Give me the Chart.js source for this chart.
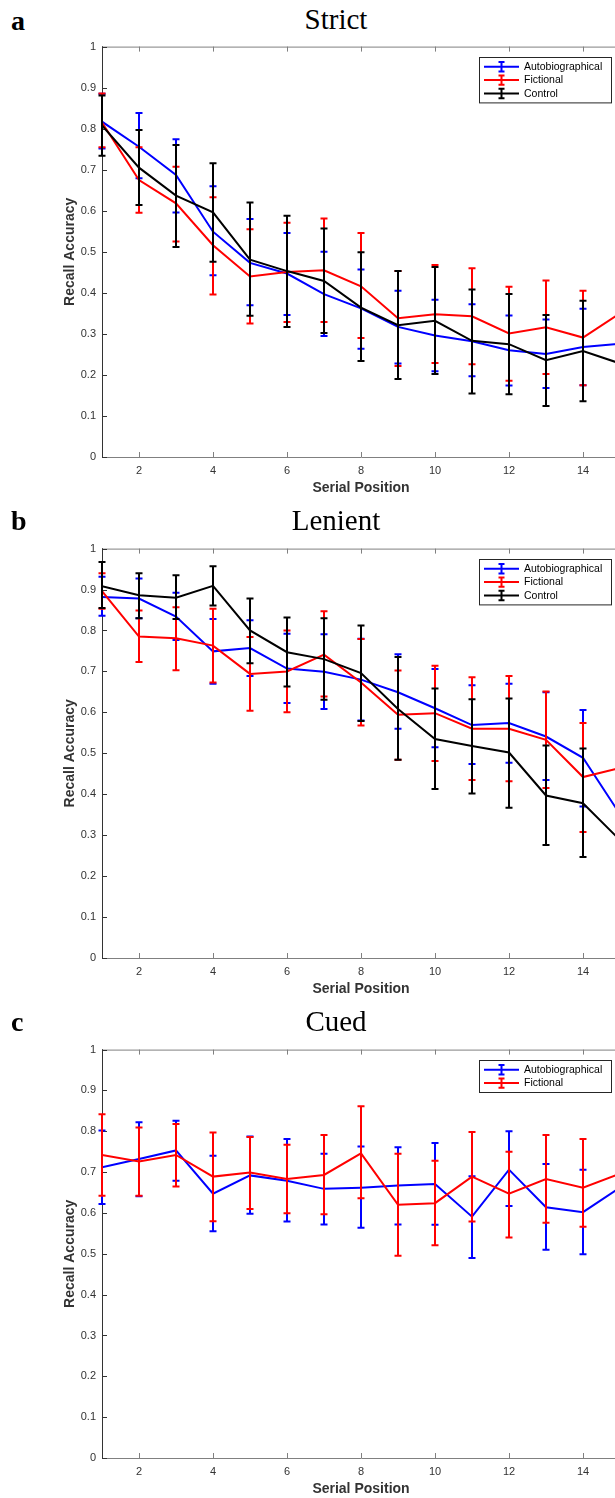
<!DOCTYPE html>
<html>
<head>
<meta charset="utf-8">
<script src="https://cdn.jsdelivr.net/npm/chart.js@4.4.1/dist/chart.umd.min.js"></script>
<style>
html, body { margin: 0; padding: 0; background: #fff; overflow: hidden; }
body { width: 615px; height: 1498px; position: relative; }
.panel { position: absolute; left: 0; width: 640px; }
.letter { position: absolute; left: 11px; font: bold 28px "Liberation Serif", serif; line-height: 28px; }
.title { position: absolute; left: 336px; transform: translateX(-50%); font: 29px "Liberation Serif", serif; line-height: 28px; white-space: nowrap; }
</style>
</head>
<body>
<div class="letter" style="top:7px">a</div>
<div class="title" style="top:5px">Strict</div>
<div class="panel" style="top:34px;height:473px"><canvas id="chartStrict"></canvas></div>

<div class="letter" style="top:507px">b</div>
<div class="title" style="top:506px">Lenient</div>
<div class="panel" style="top:536px;height:472px"><canvas id="chartLenient"></canvas></div>

<div class="letter" style="top:1008px">c</div>
<div class="title" style="top:1007px">Cued</div>
<div class="panel" style="top:1037px;height:471px"><canvas id="chartCued"></canvas></div>

<script>
// serial positions and axis ticks
const serialPositions = [1, 2, 3, 4, 5, 6, 7, 8, 9, 10, 11, 12, 13, 14, 15];
const xTickValues = [2, 4, 6, 8, 10, 12, 14];
const yTickValues = [0, 0.1, 0.2, 0.3, 0.4, 0.5, 0.6, 0.7, 0.8, 0.9, 1];

// a: Strict
const strictAuto = [0.817, 0.756, 0.687, 0.549, 0.473, 0.447, 0.397, 0.362, 0.317, 0.296, 0.282, 0.26, 0.251, 0.268, 0.276];
const strictAutoHigh = [0.885, 0.838, 0.774, 0.660, 0.580, 0.546, 0.500, 0.457, 0.405, 0.383, 0.372, 0.345, 0.335, 0.361, 0.37];
const strictAutoLow = [0.752, 0.679, 0.596, 0.443, 0.370, 0.346, 0.295, 0.264, 0.228, 0.209, 0.197, 0.174, 0.168, 0.175, 0.18];
const strictFict = [0.815, 0.675, 0.618, 0.516, 0.44, 0.451, 0.455, 0.416, 0.338, 0.348, 0.343, 0.301, 0.316, 0.291, 0.35];
const strictFictHigh = [0.886, 0.755, 0.707, 0.633, 0.555, 0.571, 0.581, 0.546, 0.453, 0.468, 0.46, 0.415, 0.43, 0.405, 0.46];
const strictFictLow = [0.755, 0.595, 0.525, 0.396, 0.325, 0.329, 0.329, 0.29, 0.222, 0.229, 0.226, 0.186, 0.202, 0.175, 0.24];
const strictCtrl = [0.808, 0.705, 0.637, 0.596, 0.481, 0.453, 0.429, 0.364, 0.321, 0.332, 0.283, 0.275, 0.236, 0.258, 0.228];
const strictCtrlHigh = [0.881, 0.797, 0.760, 0.716, 0.620, 0.588, 0.557, 0.499, 0.453, 0.463, 0.408, 0.397, 0.346, 0.381, 0.35];
const strictCtrlLow = [0.734, 0.614, 0.512, 0.476, 0.344, 0.317, 0.302, 0.234, 0.19, 0.202, 0.155, 0.153, 0.124, 0.136, 0.11];

// b: Lenient
const lenientAuto = [0.882, 0.878, 0.834, 0.749, 0.757, 0.707, 0.699, 0.68, 0.649, 0.61, 0.569, 0.574, 0.541, 0.489, 0.351];
const lenientAutoHigh = [0.931, 0.927, 0.892, 0.828, 0.825, 0.792, 0.791, 0.78, 0.742, 0.706, 0.666, 0.67, 0.649, 0.606, 0.47];
const lenientAutoLow = [0.836, 0.83, 0.777, 0.67, 0.689, 0.623, 0.608, 0.58, 0.56, 0.515, 0.474, 0.477, 0.435, 0.37, 0.23];
const lenientFict = [0.896, 0.785, 0.781, 0.763, 0.694, 0.70, 0.741, 0.673, 0.594, 0.598, 0.56, 0.56, 0.533, 0.442, 0.464];
const lenientFictHigh = [0.94, 0.849, 0.857, 0.853, 0.784, 0.80, 0.847, 0.779, 0.702, 0.714, 0.686, 0.689, 0.651, 0.574, 0.59];
const lenientFictLow = [0.853, 0.723, 0.703, 0.673, 0.604, 0.60, 0.639, 0.568, 0.484, 0.481, 0.435, 0.432, 0.415, 0.308, 0.34];
const lenientCtrl = [0.908, 0.886, 0.88, 0.909, 0.80, 0.747, 0.73, 0.696, 0.608, 0.535, 0.518, 0.502, 0.397, 0.378, 0.288];
const lenientCtrlHigh = [0.967, 0.94, 0.935, 0.957, 0.878, 0.832, 0.83, 0.812, 0.735, 0.658, 0.632, 0.634, 0.519, 0.512, 0.42];
const lenientCtrlLow = [0.855, 0.83, 0.828, 0.861, 0.72, 0.663, 0.631, 0.579, 0.484, 0.413, 0.402, 0.367, 0.276, 0.247, 0.16];

// c: Cued (no control condition)
const cuedAuto = [0.712, 0.732, 0.753, 0.647, 0.692, 0.679, 0.659, 0.662, 0.667, 0.671, 0.591, 0.706, 0.614, 0.602, 0.662];
const cuedAutoHigh = [0.802, 0.822, 0.826, 0.74, 0.787, 0.781, 0.745, 0.763, 0.761, 0.771, 0.69, 0.80, 0.72, 0.706, 0.76];
const cuedAutoLow = [0.622, 0.641, 0.679, 0.555, 0.598, 0.579, 0.572, 0.564, 0.572, 0.571, 0.49, 0.617, 0.51, 0.499, 0.56];
const cuedFict = [0.742, 0.726, 0.742, 0.689, 0.699, 0.683, 0.693, 0.746, 0.62, 0.624, 0.689, 0.647, 0.683, 0.662, 0.696];
const cuedFictHigh = [0.842, 0.809, 0.818, 0.797, 0.786, 0.767, 0.791, 0.861, 0.745, 0.728, 0.798, 0.75, 0.791, 0.781, 0.80];
const cuedFictLow = [0.642, 0.642, 0.665, 0.58, 0.61, 0.599, 0.597, 0.636, 0.495, 0.521, 0.579, 0.54, 0.576, 0.566, 0.59];

Chart.defaults.font.family = '"Liberation Sans", Arial, sans-serif';
Chart.defaults.color = '#333';

/**
 * Vertical error bars, drawn right after their own line so the stacking
 * order matches the original (blue, then red, then black on top)
 */
const errorBarPlugin = {
	id: "errorBars",
	afterDatasetDraw(chart, args) {
		const ds = chart.data.datasets[args.index];
		if (!ds.errLow) return;
		const ctx = chart.ctx;
		const xs = chart.scales.x;
		const ys = chart.scales.y;
		ctx.save();
		ctx.strokeStyle = ds.borderColor;
		ctx.lineWidth = 2;
		ds.data.forEach((p, i) => {
			const x = xs.getPixelForValue(p.x);
			const yl = ys.getPixelForValue(ds.errLow[i]);
			const yh = ys.getPixelForValue(ds.errHigh[i]);
			ctx.beginPath();
			ctx.moveTo(x, yl);
			ctx.lineTo(x, yh);
			ctx.moveTo(x - 3.5, yl);
			ctx.lineTo(x + 3.5, yl);
			ctx.moveTo(x - 3.5, yh);
			ctx.lineTo(x + 3.5, yh);
			ctx.stroke();
		});
		ctx.restore();
	}
};

/**
 * Matlab style box: top line plus inward ticks on every side
 */
const boxPlugin = {
	id: "matlabBox",
	beforeDatasetsDraw(chart) {
		const {ctx, chartArea: a, scales: {x, y}} = chart;
		ctx.save();
		ctx.lineWidth = 1;
		ctx.strokeStyle = "#808080";
		ctx.beginPath();
		ctx.moveTo(a.left, a.top + 0.5);
		ctx.lineTo(a.right, a.top + 0.5);
		x.ticks.forEach(t => {
			const px = Math.round(x.getPixelForValue(t.value)) + 0.5;
			ctx.moveTo(px, a.top);
			ctx.lineTo(px, a.top + 5);
			ctx.moveTo(px, a.bottom);
			ctx.lineTo(px, a.bottom - 5);
		});
		ctx.stroke();
		ctx.strokeStyle = "#333";
		ctx.beginPath();
		y.ticks.forEach(t => {
			const py = Math.round(y.getPixelForValue(t.value)) + 0.5;
			ctx.moveTo(a.left, py);
			ctx.lineTo(a.left + 5, py);
			ctx.moveTo(a.right, py);
			ctx.lineTo(a.right - 5, py);
		});
		ctx.stroke();
		ctx.restore();
	}
};

/**
 * Boxed legend in the top right corner, with line + error bar glyphs
 */
const boxLegendPlugin = {
	id: "boxLegend",
	afterDraw(chart) {
		const {ctx, chartArea: a} = chart;
		const sets = chart.data.datasets;
		const rowH = 13.4;
		const w = 132;
		const h = sets.length * rowH + 5.2;
		const bx = Math.round(a.right - 9 - w);
		const by = Math.round(a.top + 10);
		ctx.save();
		ctx.fillStyle = "#fff";
		ctx.fillRect(bx, by, w, h);
		ctx.strokeStyle = "#262626";
		ctx.lineWidth = 1;
		ctx.strokeRect(bx + 0.5, by + 0.5, w, h);
		ctx.font = '10.5px "Liberation Sans", Arial, sans-serif';
		ctx.textBaseline = "middle";
		sets.forEach((ds, i) => {
			const cy = by + 9.7 + i * rowH;
			const mx = bx + 22.5;
			ctx.strokeStyle = ds.borderColor;
			ctx.lineWidth = 2;
			ctx.beginPath();
			ctx.moveTo(bx + 5, cy);
			ctx.lineTo(bx + 40, cy);
			ctx.moveTo(mx, cy - 4.7);
			ctx.lineTo(mx, cy + 4.7);
			ctx.moveTo(mx - 3, cy - 4.7);
			ctx.lineTo(mx + 3, cy - 4.7);
			ctx.moveTo(mx - 3, cy + 4.7);
			ctx.lineTo(mx + 3, cy + 4.7);
			ctx.stroke();
			ctx.fillStyle = "#000";
			ctx.fillText(ds.label, bx + 45, cy + 0.5);
		});
		ctx.restore();
	}
};

function series(label, color, values, low, high, order) {
	return {
		label: label,
		data: values.map((v, i) => ({x: serialPositions[i], y: v})),
		errLow: low,
		errHigh: high,
		borderColor: color,
		backgroundColor: color,
		borderWidth: 2,
		pointRadius: 0,
		tension: 0,
		order: order
	};
}

function createChart(canvasId, datasets) {
	new Chart(document.getElementById(canvasId), {
		type: "line",
		data: { datasets: datasets },
		options: {
			responsive: true,
			maintainAspectRatio: false,
			animation: false,
			events: [],
			layout: { padding: { top: 1, left: 0, right: 20, bottom: 0 } },
			plugins: { legend: { display: false }, tooltip: { enabled: false } },
			scales: {
				x: {
					type: "linear",
					min: 1,
					max: 15,
					afterBuildTicks: s => { s.ticks = xTickValues.map(v => ({value: v})); },
					afterFit: s => { s.height = 50; },
					grid: { display: false, drawTicks: false },
					border: { display: true, color: "#808080", width: 1 },
					ticks: { padding: 7, font: { size: 11 }, color: "#333", maxRotation: 0 },
					title: {
						display: true,
						text: "Serial Position",
						font: { size: 14, weight: "bold" },
						color: "#333",
						padding: { bottom: 10 }
					}
				},
				y: {
					min: 0,
					max: 1,
					afterBuildTicks: s => { s.ticks = yTickValues.map(v => ({value: v})); },
					afterFit: s => { s.width = 102; },
					grid: { display: false, drawTicks: false },
					border: { display: true, color: "#333", width: 1 },
					ticks: { padding: 6, font: { size: 11 }, color: "#333", callback: v => String(+v.toFixed(1)) },
					title: {
						display: true,
						text: "Recall Accuracy",
						font: { size: 14, weight: "bold" },
						color: "#333",
						padding: { top: 62 }
					}
				}
			}
		},
		plugins: [boxPlugin, errorBarPlugin, boxLegendPlugin]
	});
}

createChart("chartStrict", [
	series("Autobiographical", "#0000ff", strictAuto, strictAutoLow, strictAutoHigh, 3),
	series("Fictional", "#ff0000", strictFict, strictFictLow, strictFictHigh, 2),
	series("Control", "#000000", strictCtrl, strictCtrlLow, strictCtrlHigh, 1)
]);

createChart("chartLenient", [
	series("Autobiographical", "#0000ff", lenientAuto, lenientAutoLow, lenientAutoHigh, 3),
	series("Fictional", "#ff0000", lenientFict, lenientFictLow, lenientFictHigh, 2),
	series("Control", "#000000", lenientCtrl, lenientCtrlLow, lenientCtrlHigh, 1)
]);

createChart("chartCued", [
	series("Autobiographical", "#0000ff", cuedAuto, cuedAutoLow, cuedAutoHigh, 2),
	series("Fictional", "#ff0000", cuedFict, cuedFictLow, cuedFictHigh, 1)
]);
</script>
</body>
</html>
